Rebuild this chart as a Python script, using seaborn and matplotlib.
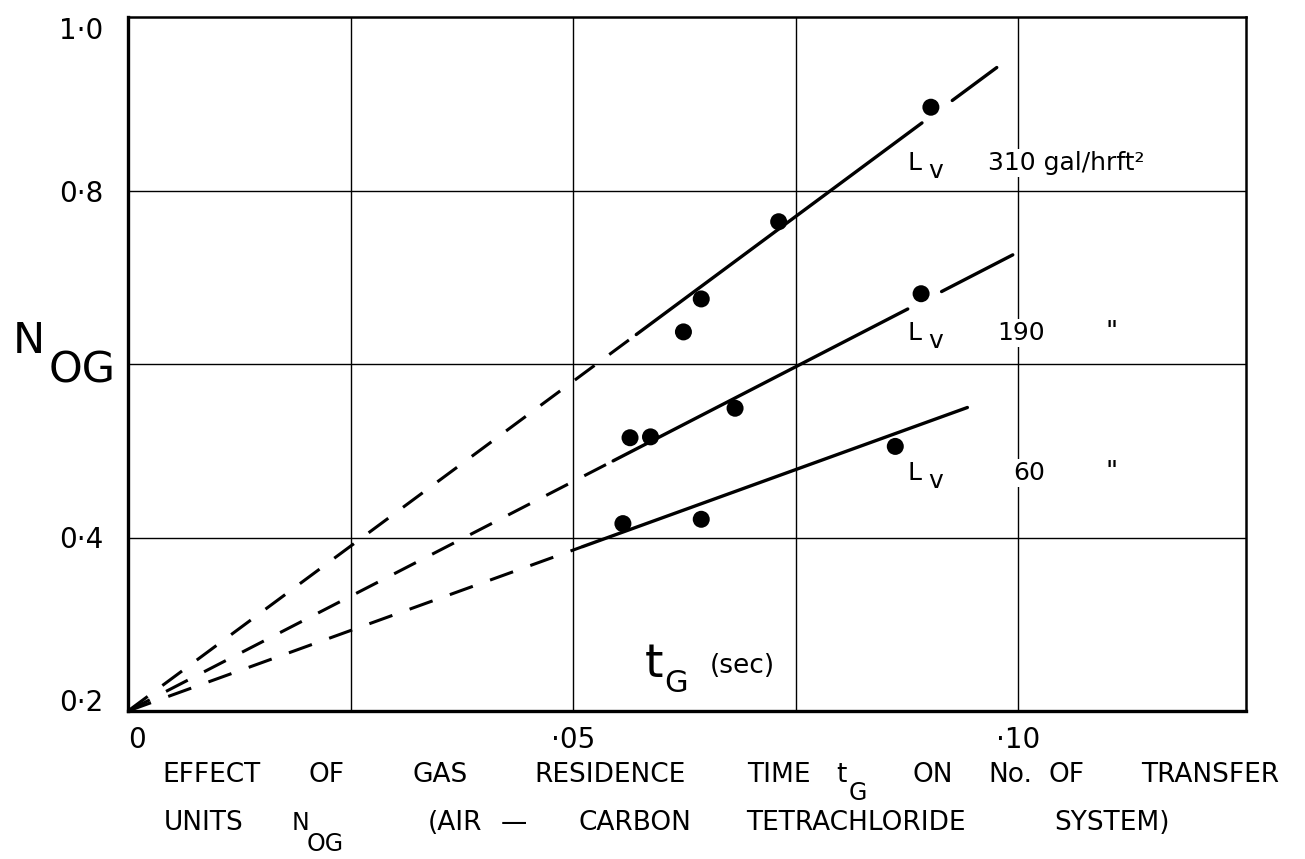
import matplotlib
matplotlib.use("Agg")
import matplotlib.pyplot as plt
import numpy as np
import pandas as pd
import seaborn as sns

# Measured points: gas residence time t_G (sec) against transfer units N_OG
rate_labels = ["310", "190", "60"]
t_310 = [0.0624, 0.0644, 0.0731, 0.0902]
n_310 = [0.637, 0.675, 0.764, 0.896]
t_190 = [0.0564, 0.0587, 0.0682, 0.0891]
n_190 = [0.515, 0.516, 0.549, 0.681]
t_60 = [0.0556, 0.0644, 0.0862]
n_60 = [0.416, 0.421, 0.505]

# Straight-line fits N_OG = n0 + k * t_G, all running back to the origin corner
fit_n0 = 0.2
fit_slope = [7.60, 5.29, 3.71]
# Solid part of each fit, and the short extrapolated stub beyond the last point
solid_from = [0.0571, 0.0545, 0.0511]
solid_to = [0.0892, 0.0876, 0.0943]
stub_from = [0.0926, 0.0914, None]
stub_to = [0.0976, 0.0994, None]

x_grid = [0.025, 0.05, 0.075, 0.10]
y_grid = [0.4, 0.6, 0.8]
x_ticks = [0.0, 0.05, 0.10]
x_tick_labels = ["0", "·05", "·10"]
y_ticks = [0.2, 0.4, 0.8, 1.0]
y_tick_labels = ["0·2", "0·4", "0·8", "1·0"]

points = pd.concat([
    pd.DataFrame({"t": t_310, "n": n_310, "rate": "310"}),
    pd.DataFrame({"t": t_190, "n": n_190, "rate": "190"}),
    pd.DataFrame({"t": t_60, "n": n_60, "rate": "60"}),
], ignore_index=True)

sns.set_theme(style="white")
plt.rcParams["font.family"] = ["DejaVu Sans"]
plt.rcParams["text.color"] = "black"

W, H = 1305, 859
fig = plt.figure(figsize=(W / 100, H / 100), dpi=100)
ax = fig.add_axes([128 / W, 1 - 711 / H, (1246 - 128) / W, (711 - 17) / H])
ax.set_xlim(0, 0.1256)
ax.set_ylim(0.2, 1.0)

# frame and grid
for side, lw in [("left", 2.4), ("bottom", 2.4), ("top", 1.8), ("right", 1.8)]:
    ax.spines[side].set_linewidth(lw)
    ax.spines[side].set_color("black")
for gx in x_grid:
    ax.axvline(gx, color="black", lw=1.0, zorder=1)
for gy in y_grid:
    ax.axhline(gy, color="black", lw=1.0, zorder=1)

# fitted lines: dashed back to origin, solid through the data, dashed stub
dash = (0, (8, 6))
for i, rate in enumerate(rate_labels):
    k = fit_slope[i]
    xs = np.array([0.0, solid_from[i]])
    sns.lineplot(x=xs, y=fit_n0 + k * xs, ax=ax, color="black", lw=2.2,
                 linestyle=dash, estimator=None, sort=False, zorder=3)
    xs = np.array([solid_from[i], solid_to[i]])
    sns.lineplot(x=xs, y=fit_n0 + k * xs, ax=ax, color="black", lw=2.4,
                 estimator=None, sort=False, zorder=3)
    if stub_from[i] is not None:
        xs = np.array([stub_from[i], stub_to[i]])
        sns.lineplot(x=xs, y=fit_n0 + k * xs, ax=ax, color="black", lw=2.4,
                     estimator=None, sort=False, zorder=3)

sns.scatterplot(data=points, x="t", y="n", hue="rate",
                palette={"310": "black", "190": "black", "60": "black"},
                s=150, linewidth=0, legend=False, ax=ax, zorder=4)

# ticks
ax.set_xticks(x_ticks)
ax.set_xticklabels(x_tick_labels, fontsize=20)
ax.set_yticks(y_ticks)
ax.set_yticklabels(y_tick_labels, fontsize=20)
ax.tick_params(axis="both", length=0, colors="black")
ax.tick_params(axis="x", pad=11)
ax.tick_params(axis="y", pad=18)
ax.get_xticklabels()[0].set_ha("left")
ylabels = ax.get_yticklabels()
ylabels[0].set_va("baseline")
ylabels[-1].set_va("top")
ax.set_xlabel("")
ax.set_ylabel("")

# flow-rate labels beside each line
wbox = dict(facecolor="white", edgecolor="none", pad=1.5)
label_y = [0.8236, 0.6277, 0.4663]
for i, rate in enumerate(rate_labels):
    ax.text(0.0876, label_y[i], "L", fontsize=18, va="baseline", ha="left", zorder=5)
    ax.annotate("v", (0.0876, label_y[i]), xytext=(15, -6), textcoords="offset points",
                fontsize=18, va="baseline", ha="left", zorder=5)
ax.text(0.0966, label_y[0], "310 gal/hrft²", fontsize=18, va="baseline", ha="left",
        bbox=wbox, zorder=5)
for i in (1, 2):
    ax.text(0.1030, label_y[i], rate_labels[i], fontsize=18, va="baseline", ha="right",
            bbox=wbox, zorder=5)
    ax.text(0.1098, label_y[i], "\"", fontsize=19, va="baseline", ha="left", zorder=5)

# axis variable inside the plot
ax.text(0.0580, 0.2392, "t", fontsize=34, va="baseline", ha="left")
ax.text(0.0603, 0.2219, "G", fontsize=22, va="baseline", ha="left")
ax.text(0.0654, 0.2438, "(sec)", fontsize=19, va="baseline", ha="left")

# y-axis label
def fx(px):
    return px / W

def fy(py):
    return 1 - py / H

fig.text(fx(13), fy(353), "N", fontsize=31, va="baseline", ha="left")
fig.text(fx(49), fy(383), "OG", fontsize=31, va="baseline", ha="left")

# caption
line1 = [("EFFECT", 212), ("OF", 327), ("GAS", 440), ("RESIDENCE", 610),
         ("TIME", 779), ("ON", 933), ("No.", 1010), ("OF", 1067), ("TRANSFER", 1210)]
for word, cx in line1:
    fig.text(fx(cx), fy(782), word, fontsize=19, va="baseline", ha="center")
fig.text(fx(836), fy(782), "t", fontsize=19, va="baseline", ha="left")
fig.text(fx(849), fy(800), "G", fontsize=17, va="baseline", ha="left")

line2 = [("UNITS", 204), ("(AIR", 455), ("—", 514), ("CARBON", 635),
         ("TETRACHLORIDE", 856), ("SYSTEM)", 1112)]
for word, cx in line2:
    fig.text(fx(cx), fy(830), word, fontsize=19, va="baseline", ha="center")
fig.text(fx(292), fy(830), "N", fontsize=17, va="baseline", ha="left")
fig.text(fx(307), fy(851), "OG", fontsize=17, va="baseline", ha="left")

fig.savefig("out.png", dpi=100, facecolor="white")
